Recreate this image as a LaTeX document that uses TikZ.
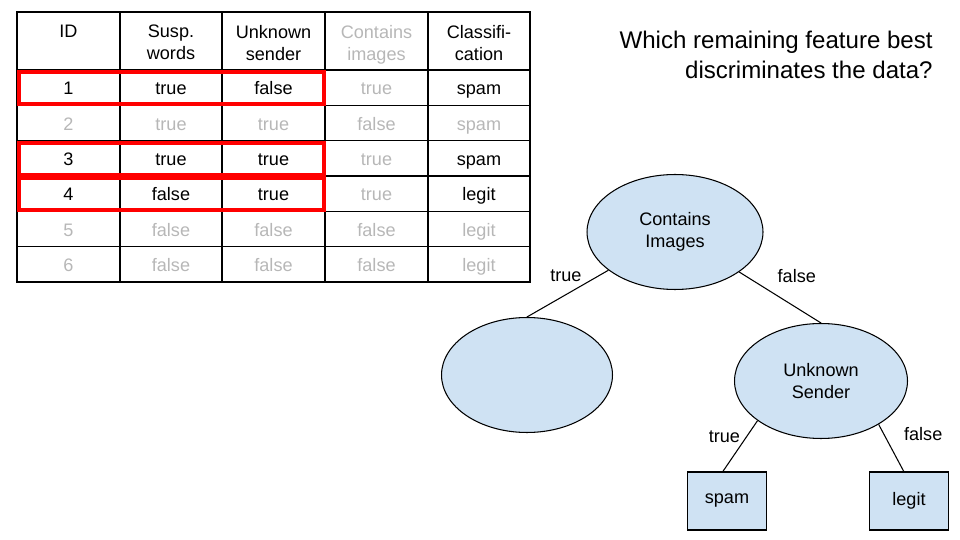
\documentclass[tikz,border=0pt]{standalone}
\usepackage{fontspec}
\setmainfont{Liberation Sans}
\usetikzlibrary{shapes,positioning}
\definecolor{faded}{RGB}{183,183,183}
\definecolor{leafblue}{RGB}{207,226,243}
\definecolor{pickred}{RGB}{255,0,0}

\begin{document}
\begin{tikzpicture}[x=0.02cm,y=-0.02cm,
        txt/.style={font=\fontsize{10.3}{12.5}\selectfont},
        head/.style={txt,anchor=north,inner sep=0pt,align=center},
        cell/.style={txt,inner sep=0pt,text height=0.72em,text depth=0pt},
        grid/.style={line width=0.6pt},
        pick/.style={draw=pickred,line width=1.8pt},
        split/.style={ellipse,draw,fill=leafblue,txt,align=center,line width=0.6pt},
        leaf/.style={rectangle,draw,fill=leafblue,txt,minimum width=1.58cm,minimum height=1.16cm,line width=0.6pt},
        branch/.style={line width=0.6pt}]
        \useasboundingbox (0,0) rectangle (960,540);

        \draw[grid] (17,12) rectangle (530,282);
        \foreach \x in {120,222,325,428} \draw[grid] (\x,12) -- (\x,282);
        \foreach \y in {70,105.3,140.7,176,211.3,246.7} \draw[grid] (17,\y) -- (530,\y);

        \node[head] (hid) at (68.5,25) {ID};
        \node[head] (hsw) at (171,25) {Susp.\\words};
        \node[head] (hus) at (273.5,25) {Unknown\\sender};
        \node[head,text=faded] (hci) at (376.5,25) {Contains\\images};
        \node[head] (hcl) at (479,25) {Classifi-\\cation};

        \foreach \id/\sw/\us/\ci/\cl/\tone in {1/true/false/true/spam/black,
                2/true/true/false/spam/faded,
                3/true/true/true/spam/black,
                4/false/true/true/legit/black,
                5/false/false/false/legit/faded,
                6/false/false/false/legit/faded} {
            \node[cell,text=\tone] (id\id) at (68.5,{71+35.33*(\id-0.5)}) {\id};
            \node[cell,text=\tone] (sw\id) at (171,{71+35.33*(\id-0.5)}) {\sw};
            \node[cell,text=\tone] (us\id) at (273.5,{71+35.33*(\id-0.5)}) {\us};
            \node[cell,text=faded] (ci\id) at (376.5,{71+35.33*(\id-0.5)}) {\ci};
            \node[cell,text=\tone] (cl\id) at (479,{71+35.33*(\id-0.5)}) {\cl};
        }

        \draw[pick] (19,72) rectangle (324,104);
        \draw[pick] (19,143) rectangle (324,175);
        \draw[pick] (19,178) rectangle (324,210);

        \node[font=\fontsize{13.7}{17}\selectfont,align=right,anchor=east,inner sep=0pt] (question) at (933,55) {Which remaining feature best\\discriminates the data?};

        \node[split,minimum width=3.52cm,minimum height=2.3cm] (images) at (675,232) {Contains\\Images};
        \node[split,minimum width=3.42cm,minimum height=2.3cm] (blank) at (527,375) {};
        \node[split,minimum width=3.46cm,minimum height=2.3cm] (sender) at (821,381) {Unknown\\Sender};
        \node[leaf] (spam) at (727,501) {spam};
        \node[leaf] (legit) at (909,501) {legit};

        \draw[branch] (images) -- node[txt,above=3pt,xshift=-1pt] {true} (blank.north);
        \draw[branch] (images) -- node[txt,above right=5pt and -5pt] {false} (sender.north);
        \draw[branch] (sender.212) -- node[txt,pos=.32,left=0pt] {true} (spam.98);
        \draw[branch] (sender.323) -- node[txt,pos=.2,right=8pt] {false} (legit.100);
\end{tikzpicture}
\end{document}
